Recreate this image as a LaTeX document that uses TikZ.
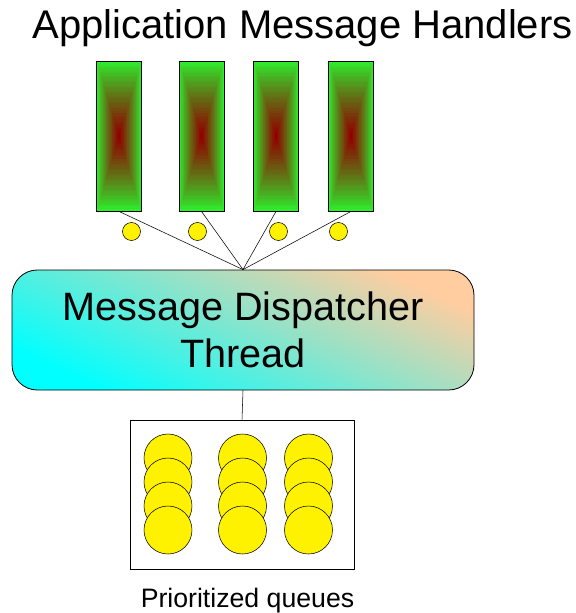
\documentclass[tikz,border=0pt]{standalone}
\usepackage{fontspec}
\setmainfont{Liberation Sans}
\definecolor{hgreen}{RGB}{45,240,45}
\definecolor{hred}{RGB}{145,0,0}
\definecolor{peach}{RGB}{255,205,160}
\definecolor{paleteal}{RGB}{150,238,225}
\tikzset{
  handler/.style={draw, line width=0.6pt, inner sep=0pt,
    minimum width=33.75pt, minimum height=112.5pt,
    path picture={
      \foreach \i in {0,...,29}{
        \pgfmathsetmacro{\f}{1-\i/30}
        \pgfmathtruncatemacro{\p}{100*(\i/29)^0.85}
        \fill[hred!\p!hgreen]
          ([shift={(-22.5*\f,-75*\f)}]path picture bounding box.center) rectangle
          ([shift={(22.5*\f,75*\f)}]path picture bounding box.center);
      }
    }},
  msg/.style={circle, draw, fill=yellow, inner sep=0pt, minimum size=13.5pt},
  qitem/.style={circle, draw, fill=yellow, inner sep=0pt, minimum size=36pt},
}
\begin{document}
\begin{tikzpicture}[x=0.75pt,y=-0.75pt]
    \useasboundingbox (0,0) rectangle (575,613);

    % Title
    \node[anchor=base, inner sep=0pt] (title) at (302.5,39)
      {\fontsize{30}{36}\selectfont Application Message Handlers};

    % Handlers
    \node[handler] (h1) at (119,136) {};
    \node[handler] (h2) at (201.5,136) {};
    \node[handler] (h3) at (276,136) {};
    \node[handler] (h4) at (351,136) {};

    % Messages
    \node[msg] (m1) at (131.5,231.5) {};
    \node[msg] (m2) at (197.5,231.5) {};
    \node[msg] (m3) at (278.5,231.5) {};
    \node[msg] (m4) at (338.5,231.5) {};

    % Dispatcher
    \node[draw, line width=0.6pt, rounded corners=19pt,
      minimum width=346.5pt, minimum height=90pt, align=center,
      bottom color=cyan, middle color=paleteal, top color=peach, shading angle=-25,
      font=\fontsize{29.7}{35}\selectfont] (disp) at (243,330)
      {Message Dispatcher\\Thread};

    \foreach \h in {h1,h2,h3,h4}
      \draw (\h.south) -- (disp.north);

    % Queues
    \node[draw, inner sep=0pt, minimum width=168pt, minimum height=111.75pt] (queues) at (242,494.5) {};
    \draw (disp.south) -- (queues.north);
    \foreach \c/\x in {1/168,2/242.5,3/308.5}
      \foreach \r/\y in {1/458,2/482,3/506,4/530}
        \node[qitem] (q\c\r) at (\x,\y) {};

    \node[anchor=base, inner sep=0pt] (qlabel) at (247.5,607)
      {\fontsize{20}{24}\selectfont Prioritized queues};

\end{tikzpicture}
\end{document}
